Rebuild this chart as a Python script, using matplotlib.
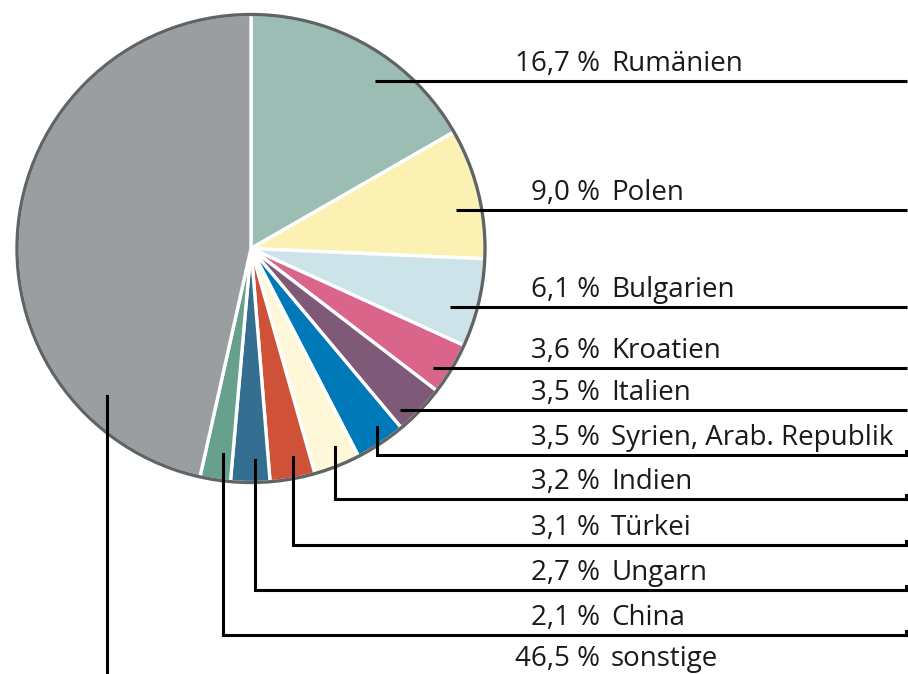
import numpy as np
import matplotlib.pyplot as plt
from matplotlib.patches import Circle

laender = ['Rumänien', 'Polen', 'Bulgarien', 'Kroatien', 'Italien',
           'Syrien, Arab. Republik', 'Indien', 'Türkei', 'Ungarn', 'China', 'sonstige']
anteile = [16.7, 9.0, 6.1, 3.6, 3.5, 3.5, 3.2, 3.1, 2.7, 2.1, 46.5]
farben = ['#9bbdb4', '#fbf1b3', '#cde3ea', '#d9668a', '#7f5a78', '#0079b8',
          '#fef8d8', '#cf5238', '#346f92', '#68a08e', '#9a9ea0']

W, H = 908, 674
cx, cy, r = 251, 248.5, 234
# y der Fuehrungslinie unter jedem Label (Pixel von oben)
linie_y = [81, 210, 307, 368, 410, 455, 499, 545, 590, 635]
# Ankerpunkt: radialer Anteil und Lage im Segment
anker_k = [0.89, 0.89, 0.885, 0.93, 0.94, 0.935, 0.92, 0.91, 0.905, 0.885, 0.88]
anker_f = [0.5, 0.5, 0.5, 0.5, 0.5, 0.38, 0.38, 0.4, 0.36, 0.36, 0.19]

fig = plt.figure(figsize=(W / 100, H / 100), dpi=100)
ax = fig.add_axes([0, 0, 1, 1])
# y-Achse invertiert -> counterclock in Daten = im Uhrzeigersinn im Bild
wedges, _ = ax.pie(anteile, colors=farben, startangle=270, counterclock=True,
                   center=(cx, cy), radius=r,
                   wedgeprops=dict(edgecolor='white', linewidth=2.4))
ax.add_patch(Circle((cx, cy), r, fill=False, edgecolor='#5f6567', linewidth=2.4, zorder=3))
ax.set_xlim(0, W)
ax.set_ylim(H, 0)
ax.set_aspect('auto')
ax.axis('off')

lw = 2.2
fs = 20
txt = dict(fontsize=fs, family='Open Sans', color='#1a1a1a', va='baseline')

for i, (name, wert, w) in enumerate(zip(laender, anteile, wedges)):
    th = np.radians(w.theta1 + anker_f[i] * (w.theta2 - w.theta1))
    ra = anker_k[i] * r
    if i < 5:
        y = linie_y[i]
        x0 = cx + np.sqrt(ra ** 2 - (y - cy) ** 2)
        ax.plot([x0, W - 1], [y, y], color='black', lw=lw, solid_capstyle='butt', zorder=4)
    elif i < 10:
        y = linie_y[i]
        x0 = cx + ra * np.cos(th)
        y0 = cy + ra * np.sin(th)
        ax.plot([x0, x0, W - 2, W - 2], [y0, y, y, y - 4], color='black', lw=lw,
                solid_joinstyle='miter', zorder=4)
    else:
        x0 = cx + ra * np.cos(th)
        y0 = cy + ra * np.sin(th)
        ax.plot([x0, x0], [y0, H], color='black', lw=lw, zorder=4)
        y = 676

    zahl = f'{wert:.1f}'.replace('.', ',') + ' %'
    ax.text(600, y - 10, zahl, ha='right', **txt)
    ax.text(611, y - 10, name, ha='left', **txt)

fig.savefig('out.png', dpi=100)
